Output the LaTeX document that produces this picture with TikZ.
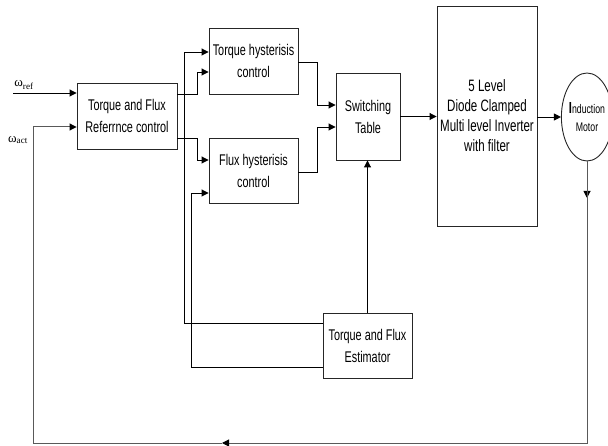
\documentclass[tikz,border=0pt]{standalone}
\usepackage{fontspec}
\setmainfont{Liberation Sans}[FakeStretch=0.7]
\newfontfamily\omegafont{Liberation Serif}
\usetikzlibrary{positioning,arrows.meta,calc,shapes.geometric}

\begin{document}
\begin{tikzpicture}[
  x=1pt,y=-1pt,>={Triangle[length=7pt,width=7pt]},
  font=\fontsize{15.5}{22}\selectfont,
  block/.style={draw=black!85,line width=.9pt,align=center,inner sep=0pt},
  link/.style={->,black,line width=.9pt},
  feedback/.style={black!65,line width=1pt,-{Triangle[length=7pt,width=7pt,color=black]}},
  omegalabel/.style={font=\omegafont\fontsize{13}{15}\selectfont,inner sep=0pt}
]
\fill[white] (0,0) rectangle (608,446);
\useasboundingbox (0,0) rectangle (608,446);
% blocks
\node[block,minimum width=100,minimum height=66] (ref) at (127,116) {Torque and Flux\\Referrnce control};
\node[block,minimum width=89,minimum height=66] (tqh) at (253.5,61) {Torque hysterisis\\control};
\node[block,minimum width=89,minimum height=65] (flh) at (253.5,170.5) {Flux hysterisis\\control};
\node[block,minimum width=64,minimum height=87] (swt) at (368,116.5) {Switching\\Table};
\node[block,minimum width=100,minimum height=220,font=\fontsize{16.5}{20}\selectfont] (inv) at (487,116)
  {5 Level\\Diode Clamped\\Multi level Inverter\\with filter};
\node[block,ellipse,minimum width=42,minimum height=88,font=\fontsize{12.5}{18}\selectfont] (im) at (587,117)
  {{\fontsize{16}{18}\bfseries I}nduction\\Motor};
\node[block,minimum width=89,minimum height=65] (est) at (367.5,345.5) {Torque and Flux\\Estimator};
% speed inputs
\node[omegalabel] (wreflbl) at (24,85) {ω\textsubscript{ref}};
\node[omegalabel] (wactlbl) at (18,140) {ω\textsubscript{act}};
\coordinate (wref) at (13,93);
\draw[link] (wref) -- (ref.west |- wref);
% forward path
\draw[link] (ref.east |- 0,94) -- ++(20,0) |- (tqh.west |- 0,72);
\draw[link] (ref.east |- 0,138) -- ++(20,0) |- (flh.west |- 0,160);
\draw[link] (tqh.east |- 0,62) -- ++(19,0) |- (swt.west |- 0,105);
\draw[link] (flh.east |- 0,172) -- ++(19,0) |- (swt.west |- 0,127);
\draw[link] (swt.east) -- (inv.west |- swt.east);
\draw[link] (inv.east |- im.west) -- (im.west);
% estimator outputs
\draw[link] (est.west |- 0,323) -| (184,52) -- (tqh.west |- 0,52);
\draw[link] (est.west |- 0,367) -| (191,193) -- (flh.west |- 0,193);
\draw[link] (est.north) -- (est.north |- swt.south);
% speed feedback
\coordinate (fbdown) at (587,198);
\coordinate (fbleft) at (222,443);
\draw[feedback] (im.south) -- (fbdown);
\draw[feedback] (im.south) |- (fbleft);
\draw[feedback] (fbleft) -| (33,127) -- (ref.west |- 0,127);
\end{tikzpicture}
\end{document}
